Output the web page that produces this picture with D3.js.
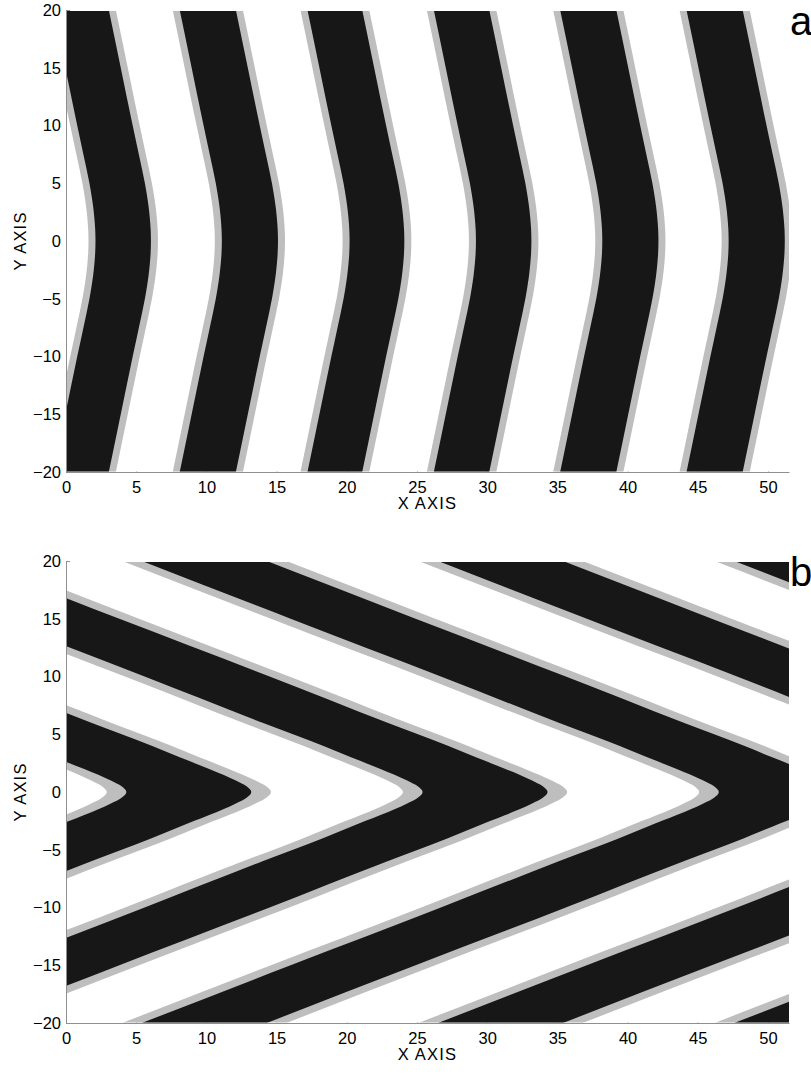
<!DOCTYPE html>
<html>
<head>
<meta charset="utf-8">
<script src="https://cdn.jsdelivr.net/npm/d3@7"></script>
<style>
  body { margin: 0; background: #fff; }
  svg { display: block; font-family: "Liberation Sans", Arial, sans-serif; }
</style>
</head>
<body>
<svg id="chart" width="811" height="1074"></svg>
<script>
const xTicks = [0, 5, 10, 15, 20, 25, 30, 35, 40, 45, 50];
const yTicks = [-20, -15, -10, -5, 0, 5, 10, 15, 20];
const xDomain = [0, 51.5];
const yDomain = [-20, 20];

// panel a: how far the chevron is pushed left at each y
const aProfileY = [-20, -15, -10, -7.5, -5, -4, -3, -2, -1, 0, 1, 2, 3, 4, 5, 7.5, 10, 15, 20];
const aProfileShift = [3.0, 2.15, 1.3, 0.86, 0.43, 0.29, 0.17, 0.08, 0.02, 0, 0.02, 0.08, 0.17, 0.29, 0.43, 0.86, 1.3, 2.15, 3.0];
// band edges at y = 0
const aGrayLeft = [1.6, 10.6, 19.7, 28.7, 37.7, 46.7];
const aBlackLeft = [2.1, 11.1, 20.2, 29.2, 38.2, 47.2];
const aBlackRight = [6.05, 15.1, 24.1, 33.15, 42.2, 51.2];
const aGrayRight = [6.55, 15.6, 24.6, 33.65, 42.7, 51.7];

// panel b: distance back from the tip at each y
const bProfileY = [-20, -15, -10, -6, -4, -3, -2, -1.5, -1, -0.5, 0, 0.5, 1, 1.5, 2, 3, 4, 6, 10, 15, 20];
const bProfileShift = [41.1, 30.5, 19.8, 11.4, 7.1, 5.1, 3.0, 2.0, 1.1, 0.34, 0, 0.34, 1.1, 2.0, 3.0, 5.1, 7.1, 11.4, 19.8, 30.5, 41.1];
// tip positions on y = 0
const bGrayIn = [2.9, 24.0, 45.1, 66.2, 87.3];
const bBlackIn = [4.3, 25.4, 46.5, 67.6, 88.7];
const bBlackOut = [13.2, 34.3, 55.4, 76.5, 97.6];
const bGrayOut = [14.6, 35.7, 56.8, 77.9, 99.0];

const BLACK = "#171717";
const GRAY = "#bebebe";
const AXIS = "#8f8f8f";

const svg = d3.select("#chart");
const left = 66, right = 789;

function drawPanel(id, top, bottom, profY, profShift, bands, letter) {
  const x = d3.scaleLinear().domain(xDomain).range([left, right]);
  const y = d3.scaleLinear().domain(yDomain).range([bottom, top]);

  const g = svg.append("g");

  const xAxis = d3.axisBottom(x).tickValues(xTicks).tickSizeInner(-4).tickSizeOuter(0).tickPadding(9);
  const yAxis = d3.axisLeft(y).tickValues(yTicks).tickSizeInner(-4).tickSizeOuter(0).tickPadding(5);

  g.append("g").attr("transform", `translate(0,${bottom})`).call(xAxis);
  g.append("g").attr("transform", `translate(${left},0)`).call(yAxis);
  g.selectAll(".domain, .tick line").attr("stroke", AXIS);
  g.selectAll(".tick text").attr("font-size", 16.5).attr("fill", "#000")
    .attr("font-family", "Liberation Sans, Arial, sans-serif");

  svg.append("clipPath").attr("id", id)
    .append("rect")
    .attr("x", left + 1).attr("y", top + 1)
    .attr("width", right - left - 1).attr("height", bottom - top - 1.5);

  const plot = svg.append("g").attr("clip-path", `url(#${id})`);
  plot.append("rect")
    .attr("x", left).attr("y", top)
    .attr("width", right - left).attr("height", bottom - top)
    .attr("fill", "#fff");

  const pts = profY.map((v, i) => ({y: v, s: profShift[i]}));

  bands.forEach(b => {
    const area = (a, c) => d3.area()
      .curve(d3.curveMonotoneY)
      .y(d => y(d.y))
      .x0(d => x(a - d.s))
      .x1(d => x(c - d.s));
    plot.append("path").attr("d", area(b.grayIn, b.grayOut)(pts)).attr("fill", GRAY);
    plot.append("path").attr("d", area(b.blackIn, b.blackOut)(pts)).attr("fill", BLACK);
  });

  svg.append("text")
    .attr("x", (left + right) / 2).attr("y", bottom + 37)
    .attr("text-anchor", "middle").attr("font-size", 16.5)
    .attr("letter-spacing", 1.2)
    .text("X AXIS");

  svg.append("text")
    .attr("transform", `translate(26,${(top + bottom) / 2}) rotate(-90)`)
    .attr("text-anchor", "middle").attr("font-size", 16.5)
    .attr("letter-spacing", 1.2)
    .text("Y AXIS");

  svg.append("text")
    .attr("x", right + 1).attr("y", top + 25)
    .attr("font-size", 40)
    .text(letter);
}

const aBands = aBlackLeft.map((v, i) => ({
  grayIn: aGrayLeft[i], blackIn: v, blackOut: aBlackRight[i], grayOut: aGrayRight[i]
}));
const bBands = bBlackIn.map((v, i) => ({
  grayIn: bGrayIn[i], blackIn: v, blackOut: bBlackOut[i], grayOut: bGrayOut[i]
}));

drawPanel("clipA", 10, 472, aProfileY, aProfileShift, aBands, "a");
drawPanel("clipB", 561, 1023, bProfileY, bProfileShift, bBands, "b");
</script>
</body>
</html>
